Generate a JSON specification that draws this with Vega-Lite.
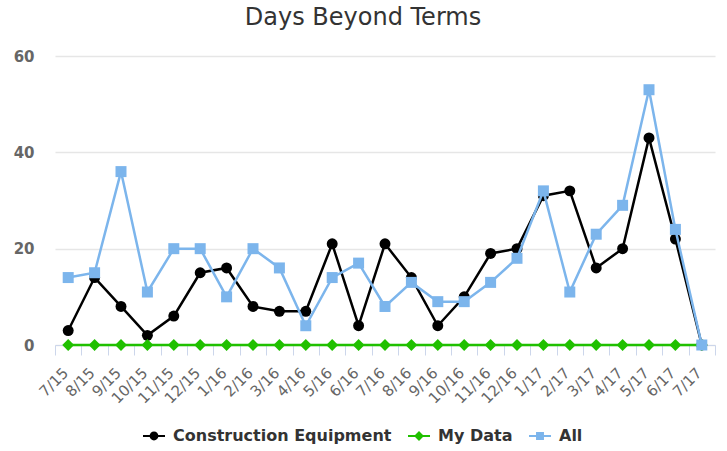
{
  "$schema": "https://vega.github.io/schema/vega-lite/v6.json",
  "width": 660,
  "height": 289,
  "autosize": {"type": "none"},
  "padding": {"left": 55, "top": 56, "right": 12, "bottom": 106},
  "background": "#ffffff",
  "title": {
    "text": "Days Beyond Terms",
    "font": "DejaVu Sans",
    "fontSize": 24,
    "fontWeight": "normal",
    "color": "#333333",
    "anchor": "middle",
    "offset": 19,
    "dx": -22
  },
  "data": {
    "values": [
      {"month": "7/15", "series": "Construction Equipment", "value": 3},
      {"month": "8/15", "series": "Construction Equipment", "value": 14},
      {"month": "9/15", "series": "Construction Equipment", "value": 8},
      {"month": "10/15", "series": "Construction Equipment", "value": 2},
      {"month": "11/15", "series": "Construction Equipment", "value": 6},
      {"month": "12/15", "series": "Construction Equipment", "value": 15},
      {"month": "1/16", "series": "Construction Equipment", "value": 16},
      {"month": "2/16", "series": "Construction Equipment", "value": 8},
      {"month": "3/16", "series": "Construction Equipment", "value": 7},
      {"month": "4/16", "series": "Construction Equipment", "value": 7},
      {"month": "5/16", "series": "Construction Equipment", "value": 21},
      {"month": "6/16", "series": "Construction Equipment", "value": 4},
      {"month": "7/16", "series": "Construction Equipment", "value": 21},
      {"month": "8/16", "series": "Construction Equipment", "value": 14},
      {"month": "9/16", "series": "Construction Equipment", "value": 4},
      {"month": "10/16", "series": "Construction Equipment", "value": 10},
      {"month": "11/16", "series": "Construction Equipment", "value": 19},
      {"month": "12/16", "series": "Construction Equipment", "value": 20},
      {"month": "1/17", "series": "Construction Equipment", "value": 31},
      {"month": "2/17", "series": "Construction Equipment", "value": 32},
      {"month": "3/17", "series": "Construction Equipment", "value": 16},
      {"month": "4/17", "series": "Construction Equipment", "value": 20},
      {"month": "5/17", "series": "Construction Equipment", "value": 43},
      {"month": "6/17", "series": "Construction Equipment", "value": 22},
      {"month": "7/17", "series": "Construction Equipment", "value": 0},
      {"month": "7/15", "series": "My Data", "value": 0},
      {"month": "8/15", "series": "My Data", "value": 0},
      {"month": "9/15", "series": "My Data", "value": 0},
      {"month": "10/15", "series": "My Data", "value": 0},
      {"month": "11/15", "series": "My Data", "value": 0},
      {"month": "12/15", "series": "My Data", "value": 0},
      {"month": "1/16", "series": "My Data", "value": 0},
      {"month": "2/16", "series": "My Data", "value": 0},
      {"month": "3/16", "series": "My Data", "value": 0},
      {"month": "4/16", "series": "My Data", "value": 0},
      {"month": "5/16", "series": "My Data", "value": 0},
      {"month": "6/16", "series": "My Data", "value": 0},
      {"month": "7/16", "series": "My Data", "value": 0},
      {"month": "8/16", "series": "My Data", "value": 0},
      {"month": "9/16", "series": "My Data", "value": 0},
      {"month": "10/16", "series": "My Data", "value": 0},
      {"month": "11/16", "series": "My Data", "value": 0},
      {"month": "12/16", "series": "My Data", "value": 0},
      {"month": "1/17", "series": "My Data", "value": 0},
      {"month": "2/17", "series": "My Data", "value": 0},
      {"month": "3/17", "series": "My Data", "value": 0},
      {"month": "4/17", "series": "My Data", "value": 0},
      {"month": "5/17", "series": "My Data", "value": 0},
      {"month": "6/17", "series": "My Data", "value": 0},
      {"month": "7/17", "series": "My Data", "value": 0},
      {"month": "7/15", "series": "All", "value": 14},
      {"month": "8/15", "series": "All", "value": 15},
      {"month": "9/15", "series": "All", "value": 36},
      {"month": "10/15", "series": "All", "value": 11},
      {"month": "11/15", "series": "All", "value": 20},
      {"month": "12/15", "series": "All", "value": 20},
      {"month": "1/16", "series": "All", "value": 10},
      {"month": "2/16", "series": "All", "value": 20},
      {"month": "3/16", "series": "All", "value": 16},
      {"month": "4/16", "series": "All", "value": 4},
      {"month": "5/16", "series": "All", "value": 14},
      {"month": "6/16", "series": "All", "value": 17},
      {"month": "7/16", "series": "All", "value": 8},
      {"month": "8/16", "series": "All", "value": 13},
      {"month": "9/16", "series": "All", "value": 9},
      {"month": "10/16", "series": "All", "value": 9},
      {"month": "11/16", "series": "All", "value": 13},
      {"month": "12/16", "series": "All", "value": 18},
      {"month": "1/17", "series": "All", "value": 32},
      {"month": "2/17", "series": "All", "value": 11},
      {"month": "3/17", "series": "All", "value": 23},
      {"month": "4/17", "series": "All", "value": 29},
      {"month": "5/17", "series": "All", "value": 53},
      {"month": "6/17", "series": "All", "value": 24},
      {"month": "7/17", "series": "All", "value": 0}
    ]
  },
  "encoding": {
    "x": {
      "field": "month",
      "type": "ordinal",
      "sort": ["7/15","8/15","9/15","10/15","11/15","12/15","1/16","2/16","3/16","4/16","5/16","6/16","7/16","8/16","9/16","10/16","11/16","12/16","1/17","2/17","3/17","4/17","5/17","6/17","7/17"],
      "scale": {"type": "band", "paddingInner": 0, "paddingOuter": 0},
      "axis": {
        "title": null,
        "tickBand": "extent",
        "labelAngle": -45,
        "labelAlign": "right",
        "labelBaseline": "middle",
        "labelFont": "DejaVu Sans",
        "labelFontSize": 15,
        "labelColor": "#666666",
        "labelPadding": 15,
        "labelOffset": -3,
        "tickSize": 10,
        "tickColor": "#ccd6eb",
        "domainColor": "#ccd6eb",
        "domainWidth": 1,
        "grid": false
      }
    },
    "y": {
      "field": "value",
      "type": "quantitative",
      "scale": {"domain": [0, 60], "nice": false},
      "axis": {
        "title": null,
        "values": [0, 20, 40, 60],
        "domain": false,
        "ticks": false,
        "grid": true,
        "gridColor": "#e6e6e6",
        "gridWidth": 1.5,
        "labelFont": "DejaVu Sans",
        "labelFontSize": 15,
        "labelFontWeight": "bold",
        "labelColor": "#666666",
        "labelPadding": 21
      }
    },
    "color": {
      "field": "series",
      "type": "nominal",
      "scale": {
        "domain": ["Construction Equipment", "My Data", "All"],
        "range": ["#000000", "#20c000", "#7cb5ec"]
      },
      "legend": {
        "title": null,
        "orient": "none",
        "direction": "horizontal",
        "legendX": 88,
        "legendY": 369,
        "symbolSize": 484,
        "symbolOpacity": 1,
        "symbolStrokeWidth": 0,
        "labelFont": "DejaVu Sans",
        "labelFontSize": 16,
        "labelFontWeight": "bold",
        "labelColor": "#333333",
        "labelOffset": 8,
        "columnPadding": 16,
        "labelLimit": 400,
        "encode": {
          "symbols": {
            "update": {
              "fill": {"scale": "color", "field": "value"},
              "opacity": {"value": 1},
              "fillOpacity": {"value": 1},
              "strokeWidth": {"value": 0}
            }
          }
        }
      }
    }
  },
  "layer": [
    {
      "transform": [{"filter": "datum.series === 'Construction Equipment'"}],
      "mark": {"type": "line", "strokeWidth": 2.5, "point": {"filled": true, "shape": "circle", "size": 120, "opacity": 1}}
    },
    {
      "transform": [{"filter": "datum.series === 'My Data'"}],
      "mark": {"type": "line", "strokeWidth": 2.5, "point": {"filled": true, "shape": "diamond", "size": 140, "opacity": 1}}
    },
    {
      "transform": [{"filter": "datum.series === 'All'"}],
      "mark": {"type": "line", "strokeWidth": 2.5, "point": {"filled": true, "shape": "square", "size": 121, "opacity": 1}}
    },
    {
      "mark": {"type": "point", "filled": true, "opacity": 0},
      "encoding": {
        "shape": {
          "field": "series",
          "type": "nominal",
          "scale": {
            "domain": ["Construction Equipment", "My Data", "All"],
            "range": [
              "M-1,-0.09H1V0.09H-1Z M-0.4,0A0.4,0.4 0 1,1 0.4,0A0.4,0.4 0 1,1 -0.4,0Z",
              "M-1,-0.09H1V0.09H-1Z M0,-0.45L0.45,0L0,0.45L-0.45,0Z",
              "M-1,-0.09H1V0.09H-1Z M-0.36,-0.36H0.36V0.36H-0.36Z"
            ]
          }
        }
      }
    }
  ],
  "config": {
    "view": {"stroke": null}
  }
}
